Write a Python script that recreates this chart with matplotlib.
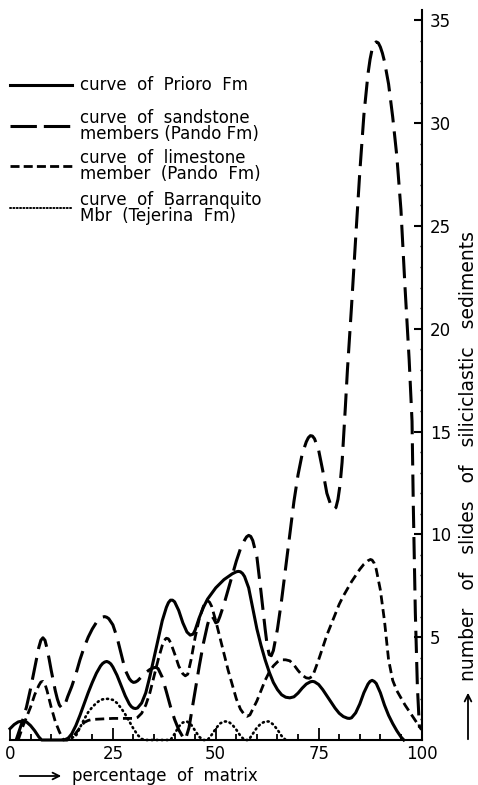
import matplotlib
matplotlib.use("Agg")
import matplotlib.pyplot as plt
import numpy as np

plt.rcParams["font.family"] = ["DejaVu Sans"]
plt.rcParams["lines.scale_dashes"] = False

# --- curves (x = percentage of matrix, y = number of slides)
prioro_x = [0, 1, 2, 3, 4, 5, 6, 7, 7.7, 13.8, 14, 15, 16, 17, 18, 19, 20, 21, 22, 22.5, 23, 23.5, 24, 24.5,
            25, 26, 27, 28, 29, 29.5, 30, 30.5, 31, 32, 33, 34, 35, 36, 37, 38, 38.5, 39, 39.5, 40, 41, 42,
            43, 43.8, 44.5, 45, 46, 47, 48, 50, 52, 54, 55, 55.5, 56, 56.5, 57, 58, 59, 60, 61, 62, 63,
            64, 65, 66, 67, 68, 69, 70, 71, 72, 73, 73.5, 74, 75, 76, 77, 78, 79, 80, 81, 82, 82.5, 83,
            84, 85, 86, 87, 87.5, 88, 88.5, 89, 90, 91, 92, 93, 94, 95, 95.7]
prioro_y = [0.55, 0.75, 0.88, 0.92, 0.88, 0.7, 0.45, 0.15, 0, 0, 0.05, 0.3, 0.7, 1.2, 1.75, 2.3, 2.8, 3.25,
            3.6, 3.72, 3.79, 3.82, 3.78, 3.7, 3.55, 3.15, 2.65, 2.15, 1.75, 1.62, 1.55, 1.53, 1.56, 1.8,
            2.3, 3.1, 4.0, 4.9, 5.8, 6.45, 6.68, 6.8, 6.8, 6.72, 6.3, 5.7, 5.25, 5.1, 5.15, 5.35, 5.95,
            6.45, 6.85, 7.4, 7.8, 8.08, 8.18, 8.2, 8.18, 8.1, 7.95, 7.4, 6.4, 5.4, 4.6, 3.9, 3.3, 2.8,
            2.45, 2.2, 2.08, 2.05, 2.1, 2.28, 2.52, 2.72, 2.83, 2.85, 2.83, 2.7, 2.45, 2.15, 1.85, 1.55,
            1.3, 1.14, 1.06, 1.05, 1.08, 1.32, 1.75, 2.3, 2.72, 2.85, 2.9, 2.85, 2.75, 2.3, 1.7, 1.2, 0.8,
            0.45, 0.15, 0]

sandstone_x = [1.5, 3, 4, 5, 6, 6.5, 7, 7.5, 8, 8.5, 9, 9.5, 10, 11, 11.5, 12, 12.6, 13, 13.5, 14, 15, 16,
               17, 18, 19, 20, 21, 22, 22.5, 23, 23.5, 24, 25, 26, 27, 28, 29, 29.5, 30, 30.5, 31, 32, 33,
               34, 35, 35.5, 36, 37, 38, 39, 40, 41, 42, 42.6, 43.5, 44, 45, 46, 47, 48, 48.5, 49, 49.5, 50,
               50.5, 51, 52, 53, 54, 55, 56, 57, 57.5, 58, 58.5, 59, 60, 61, 62, 62.5, 63, 63.5, 64, 65, 66,
               67, 68, 69, 70, 71, 72, 72.5, 73, 73.5, 74, 75, 76, 77, 78, 78.7, 79.2, 79.7, 80.2, 80.7, 81,
               81.5, 82, 83, 84, 85, 86, 87, 87.5, 88, 88.5, 89, 89.5, 90, 90.5, 91, 92, 93, 94, 95, 96,
               97, 97.7, 98, 98.5, 99, 99.5]
sandstone_y = [0, 0.9, 1.6, 2.5, 3.5, 4.0, 4.5, 4.85, 4.97, 4.85, 4.45, 3.95, 3.4, 2.4, 2.0, 1.7, 1.55, 1.6,
               1.8, 2.1, 2.6, 3.2, 3.9, 4.5, 5.0, 5.4, 5.72, 5.92, 5.98, 6.0, 5.97, 5.9, 5.6, 5.0, 4.2, 3.4,
               2.98, 2.86, 2.8, 2.82, 2.88, 3.08, 3.28, 3.43, 3.52, 3.53, 3.47, 3.05, 2.35, 1.62, 1.0, 0.5,
               0.15, 0, 0.6, 1.2, 2.4, 3.6, 4.7, 5.6, 5.95, 6.05, 5.9, 5.7, 5.75, 6.0, 6.6, 7.3, 8.0, 8.7,
               9.3, 9.72, 9.88, 9.95, 9.9, 9.7, 8.9, 7.2, 5.4, 4.6, 4.15, 4.1, 4.35, 5.4, 6.8, 8.4, 10.0,
               11.6, 12.9, 13.9, 14.5, 14.7, 14.8, 14.78, 14.65, 14.1, 13.1, 12.0, 11.4, 11.22, 11.3, 11.7,
               12.4, 13.5, 14.5, 16.2, 18.0, 21.1, 24.4, 27.6, 30.4, 32.4, 33.1, 33.6, 33.85, 33.95, 33.9,
               33.7, 33.4, 33.0, 31.9, 30.3, 28.4, 25.8, 22.0, 18.5, 15.5, 11.5, 6.2, 2.6, 0.6]

limestone_x = [2, 3, 4, 5, 6, 7, 7.5, 8, 8.5, 9, 10, 11, 12, 13, 15.5, 17, 18, 19, 20, 25, 30, 31, 32, 33,
               34, 35, 36, 37, 37.5, 38, 38.5, 39, 40, 41, 42, 42.6, 43.2, 44, 45, 46, 47, 47.5, 48, 48.5,
               49, 50, 51, 52, 53, 54, 55, 56, 57, 57.6, 58.3, 59, 60, 61, 62, 63, 64, 65, 66, 67, 68, 69,
               70, 71, 72, 72.7, 73.5, 74, 75, 76, 77, 78, 79, 80, 81, 82, 83, 84, 85, 86, 87, 87.6, 88,
               88.5, 89, 90, 91, 92, 93, 94, 95, 96, 97, 98, 99, 100]
limestone_y = [0, 0.6, 1.1, 1.6, 2.2, 2.65, 2.82, 2.85, 2.72, 2.4, 1.6, 0.9, 0.4, 0, 0.2, 0.6, 0.85, 0.95,
               1.0, 1.05, 1.05, 1.1, 1.3, 1.7, 2.3, 3.1, 3.9, 4.6, 4.85, 4.95, 4.92, 4.75, 4.2, 3.6, 3.22,
               3.12, 3.2, 3.9, 5.0, 5.9, 6.5, 6.7, 6.78, 6.7, 6.5, 5.8, 5.0, 4.2, 3.4, 2.7, 2.0, 1.5, 1.22,
               1.15, 1.22, 1.5, 1.9, 2.4, 2.9, 3.3, 3.6, 3.8, 3.9, 3.9, 3.85, 3.65, 3.38, 3.15, 3.02, 3.0,
               3.1, 3.35, 3.9, 4.5, 5.1, 5.6, 6.1, 6.6, 7.0, 7.35, 7.7, 8.0, 8.3, 8.55, 8.72, 8.78, 8.75,
               8.6, 8.3, 7.3, 5.8, 3.9, 2.9, 2.4, 2.05, 1.7, 1.4, 1.1, 0.8, 0.5]

barranq_x = [14, 16, 17, 18, 19, 20, 21, 22, 23, 24, 25, 26, 27, 28, 29, 30, 31, 32, 33, 39, 40, 41, 42, 43,
             44, 45, 46, 47, 48, 49, 50, 51, 52, 53, 54, 55, 56, 57, 58, 59, 60, 61, 62, 63, 64, 65, 66, 67]
barranq_y = [0, 0.2, 0.6, 1.0, 1.35, 1.6, 1.8, 1.95, 2.0, 2.0, 1.95, 1.8, 1.55, 1.25, 0.9, 0.55, 0.25, 0.05,
             0, 0, 0.3, 0.65, 0.85, 0.9, 0.75, 0.45, 0.15, 0, 0, 0.25, 0.55, 0.8, 0.9, 0.9, 0.75, 0.5,
             0.2, 0, 0, 0.3, 0.6, 0.8, 0.9, 0.9, 0.75, 0.5, 0.2, 0]

legend_labels = ["curve  of  Prioro  Fm",
                 "curve  of  sandstone\nmembers (Pando Fm)",
                 "curve  of  limestone\nmember  (Pando  Fm)",
                 "curve  of  Barranquito\nMbr  (Tejerina  Fm)"]

STYLES = [
    dict(ls="-", lw=2.2),
    dict(ls=(0, (16, 6.5)), lw=2.2),
    dict(ls=(0, (6.5, 3.5)), lw=2.0),
    dict(ls=(0, (0.8, 2.8)), lw=1.9, dash_capstyle="round"),
]
LEGEND_STYLES = [
    dict(ls="-", lw=2.2),
    dict(ls=(0, (19, 5)), lw=2.2),
    dict(ls=(0, (6.5, 3.0)), lw=2.0),
    dict(ls=(0, (0.8, 1.6)), lw=1.4, dash_capstyle="round"),
]

fig = plt.figure(figsize=(4.78, 7.85), dpi=100)
ax = fig.add_axes([10 / 478, 45 / 785, 411.5 / 478, 730 / 785])
ax.set_xlim(0, 100)
ax.set_ylim(0, 35.5)

series = [(prioro_x, prioro_y), (sandstone_x, sandstone_y), (limestone_x, limestone_y), (barranq_x, barranq_y)]
for (xs, ys), st in zip(series, STYLES):
    ax.plot(xs, ys, color="black", solid_joinstyle="round", dash_joinstyle="round", clip_on=False, **st)

for s in ["left", "top"]:
    ax.spines[s].set_visible(False)
for s in ["right", "bottom"]:
    ax.spines[s].set_linewidth(1.5)

ax.yaxis.tick_right()
ax.set_yticks(np.arange(5, 36, 5))
ax.set_yticks(np.arange(1, 36, 1), minor=True)
ax.set_xticks([0, 25, 50, 75, 100])
ax.set_xticks(np.arange(0, 101, 5), minor=True)
ax.tick_params(axis="y", which="major", direction="in", length=6, width=1.5, pad=6, labelsize=12)
ax.tick_params(axis="y", which="minor", direction="in", length=1.5, width=1)
ax.tick_params(axis="x", which="major", direction="in", length=9, width=1.3, pad=3.5, labelsize=12)
ax.tick_params(axis="x", which="minor", direction="in", length=4, width=1.3)

# axis captions with long arrows
arrow = dict(arrowstyle="->", lw=1.3, color="black", mutation_scale=12)
fig.add_artist(matplotlib.patches.FancyArrowPatch((17 / 478, 1 - 776 / 785), (64 / 478, 1 - 776 / 785),
                                                  transform=fig.transFigure, **arrow))
fig.text(72 / 478, 1 - 776 / 785, "percentage  of  matrix", fontsize=12, va="center", ha="left")
fig.add_artist(matplotlib.patches.FancyArrowPatch((468 / 478, 1 - 742 / 785), (468 / 478, 1 - 690 / 785),
                                                  transform=fig.transFigure, **arrow))
fig.text(468 / 478, 1 - 681 / 785, "number   of   slides   of   siliciclastic   sediments", fontsize=13.5,
         rotation=90, va="bottom", ha="center")

# hand-drawn legend
row_y = [85, 126, 166, 208]
for lab, st, y in zip(legend_labels, LEGEND_STYLES, row_y):
    yf = 1 - y / 785
    fig.add_artist(plt.Line2D([10 / 478, 72 / 478], [yf, yf], color="black", **st))
    fig.text(80 / 478, yf, lab, fontsize=12, va="center", ha="left", linespacing=0.92)

fig.savefig("out.png", dpi=100)
